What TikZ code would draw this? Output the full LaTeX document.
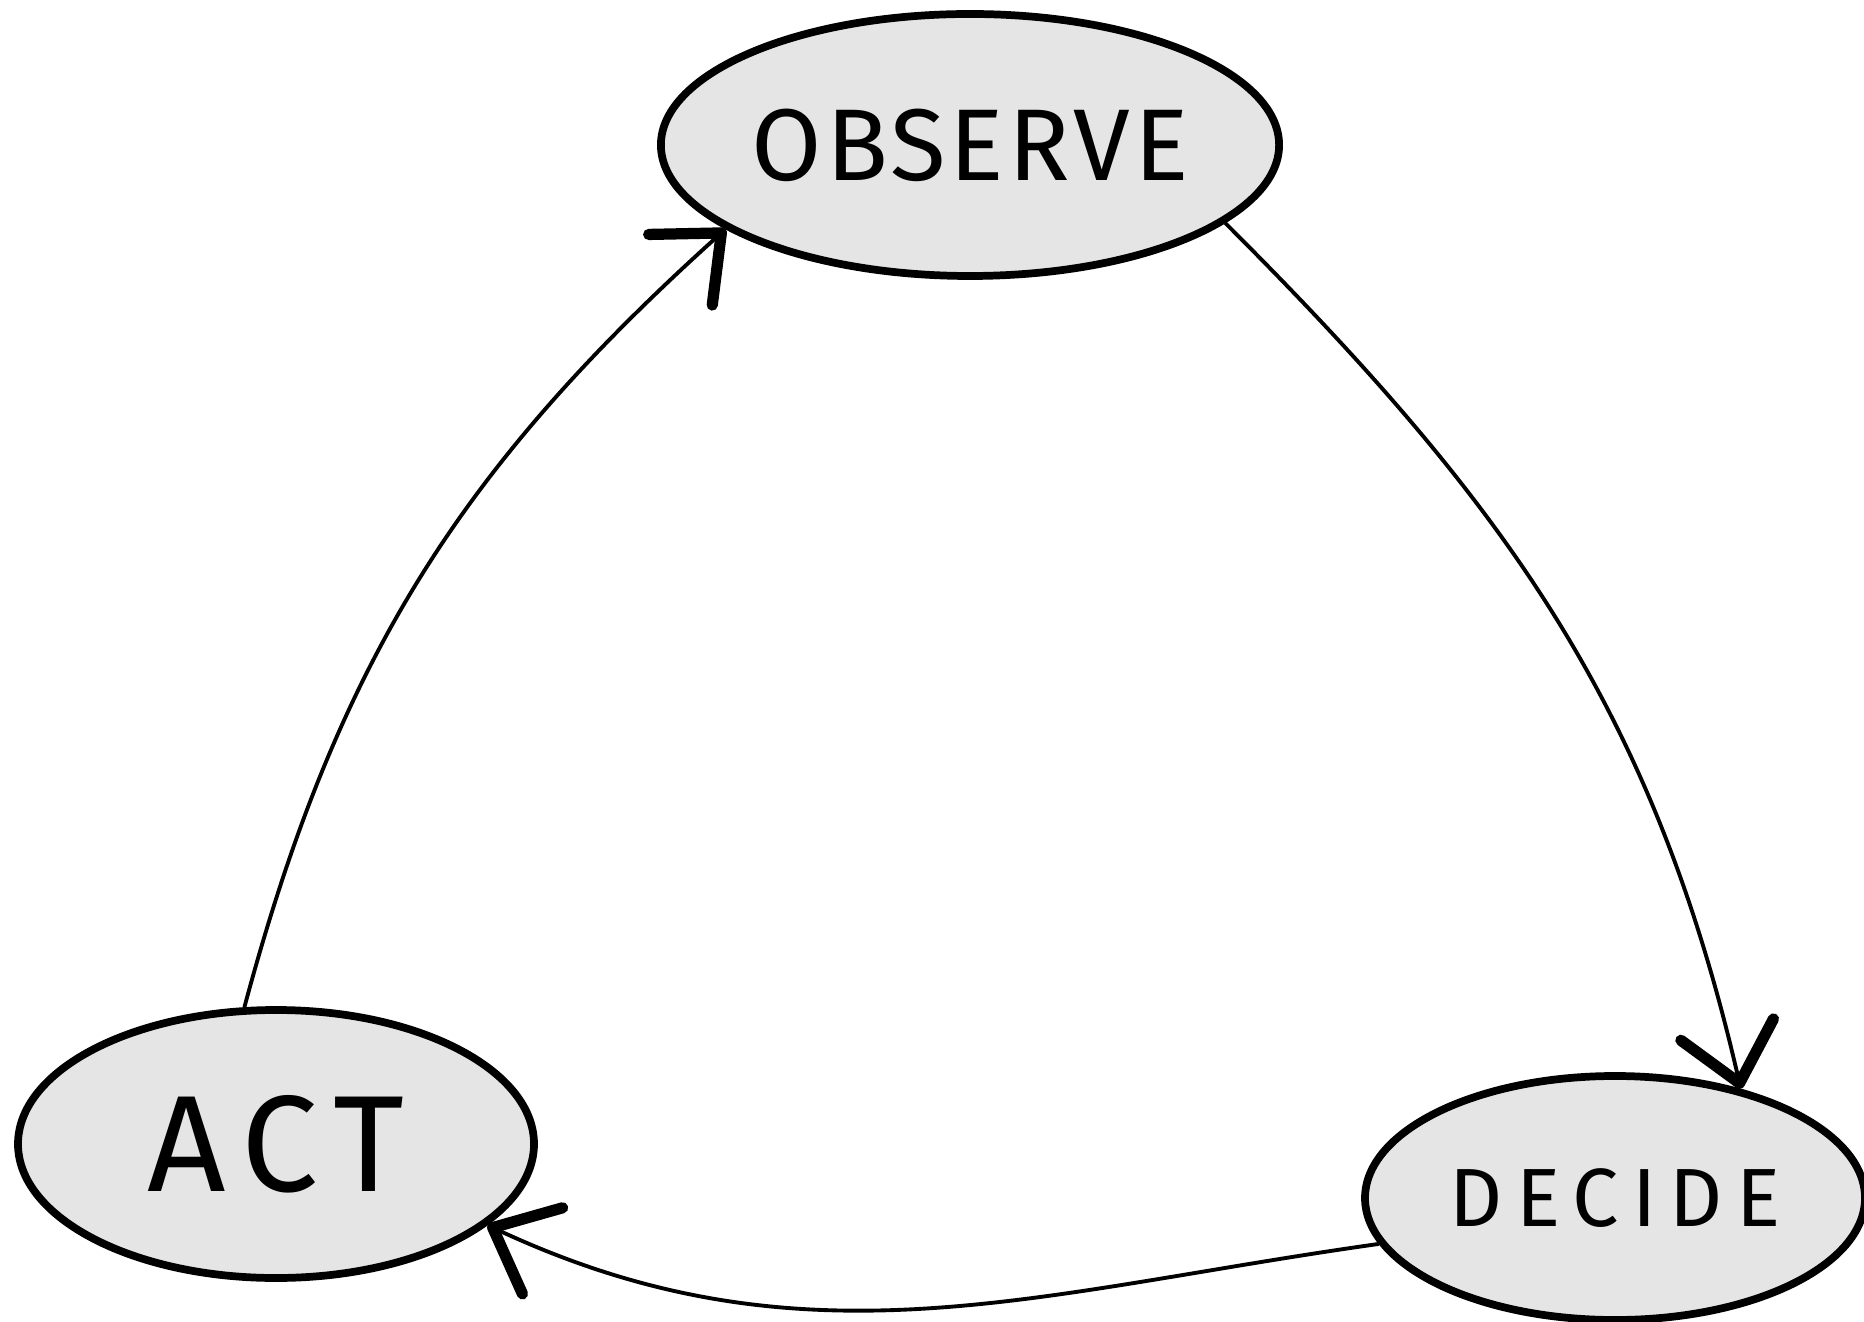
\documentclass[tikz,border=0pt]{standalone}
\usepackage{fontspec}
\setsansfont{Fira Sans}
\usepackage{tikz}
\usetikzlibrary{shapes,arrows.meta,calc,positioning}
\definecolor{bubblegray}{RGB}{229,229,229}

\begin{document}
\begin{tikzpicture}[x=0.1mm, y=-0.1mm,
    phase/.style={ellipse, draw, line width=2.2pt, fill=bubblegray, inner sep=0pt, font=\sffamily},
    loop/.style={line width=1.1pt, -{Straight Barb[length=5.5mm, width=9.5mm, line width=3.2pt, round]}}]
    \useasboundingbox (0,0) rectangle (1864,1322);
    \clip (0,0) rectangle (1864,1322);
    \node[phase, minimum width=55mm, minimum height=26.2mm] (obs) at (970,145)
        {\fontsize{29}{29}\selectfont\addfontfeature{LetterSpace=4}OBSERVE};
    \node[phase, minimum width=51.6mm, minimum height=26.8mm] (act) at (276,1144)
        {\fontsize{39}{39}\selectfont\addfontfeature{LetterSpace=12}ACT};
    \node[phase, minimum width=50mm, minimum height=24.4mm] (dec) at (1615,1198)
        {\fontsize{23.5}{23.5}\selectfont\addfontfeature{LetterSpace=16}DECIDE};
    \draw[loop] (obs.-17) to[out=-45, in=103] (dec.41);
    \draw[loop] (act.103) to[out=75, in=222] (obs.199);
    \draw[loop] (dec.191) to[out=188, in=-25] (act.-21);
\end{tikzpicture}
\end{document}
